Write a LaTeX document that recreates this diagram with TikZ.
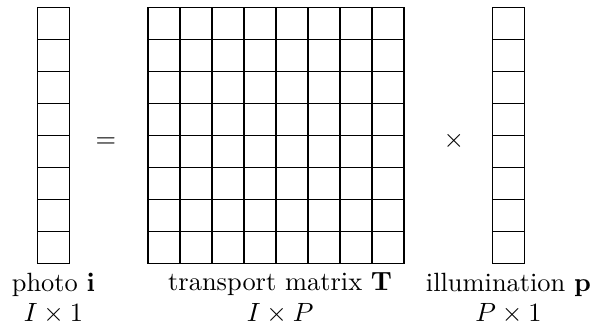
\documentclass[tikz,border=0pt]{standalone}
\usepackage{amsmath}
\usepackage{amssymb}
\usepackage{tikz}
\usetikzlibrary{positioning}

\begin{document}
\begin{tikzpicture}[x=0.3788pt, y=-0.3788pt,
  cell/.style={draw, line width=0.6pt, minimum size=12.12pt, inner sep=0pt, outer sep=0pt},
  lbl/.style={align=center, font=\normalsize}]
  \useasboundingbox (0,0) rectangle (593,330);
  \foreach \k in {1,...,8} {
    \node[cell] (i\k) at (53.5, 32*\k-8.5) {};
    \node[cell] (p\k) at (508.5, 32*\k-8.5) {};
    \foreach \c in {1,...,8}
      \node[cell] (T\k-\c) at (32*\c+132.2, 32*\k-8.5) {};
  }
  \node[anchor=base] (eq) at (106,147.1) {$=$};
  \node[anchor=base] (times) at (454,147.1) {$\times$};
  \node[lbl, below=0pt of i8] (ilbl) {photo $\mathbf{i}$\\[-0.6pt]$I\times 1$};
  \node[lbl, below=0pt of T8-4.south east, xshift=1.5pt] (Tlbl) {transport matrix $\mathbf{T}$\\[-0.6pt]$I\times P$};
  \node[lbl, below=0pt of p8] (plbl) {illumination $\mathbf{p}$\\[-0.6pt]$P\times 1$};
\end{tikzpicture}
\end{document}
